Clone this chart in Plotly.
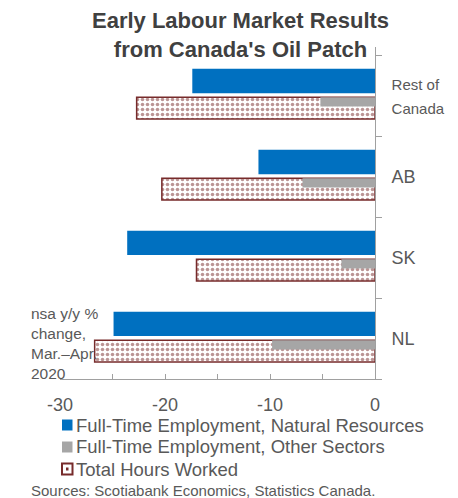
import plotly.graph_objects as go

# Regions, bottom to top on the category axis
regions = ["NL", "SK", "AB", "Rest of Canada"]
region_labels = ["NL", "SK", "AB", '<span style="font-size:15px">Rest of<br>Canada</span>']

# y/y % change, March to April 2020 (not seasonally adjusted)
ft_natural_resources = [-24.9, -23.6, -11.1, -17.4]
ft_other_sectors = [-9.8, -3.2, -6.9, -5.2]
total_hours_worked = [-26.7, -17.0, -20.3, -22.7]

x_ticks = [-30, -20, -10, 0]

BLUE = "#0070C0"
GREY = "#A6A6A6"
MAROON = "#772B2B"
TEXT = "#595959"
AXIS = "#A0A0A0"
FONT = "Liberation Sans, Arial, sans-serif"

# Plot-area geometry in pixels, used to place the legend and notes
L, R, T, B = 60, 375, 47, 379


def px_x(px):
    return (px - L) / (R - L)


def px_y(py):
    return (B - py) / (B - T)


series = [
    dict(name="Full-Time Employment, Natural Resources", values=ft_natural_resources,
         offset=0.03, width=0.30,
         marker=dict(color=BLUE, line=dict(width=0))),
    dict(name="Total Hours Worked", values=total_hours_worked,
         offset=-0.29, width=0.27,
         marker=dict(color="white", line=dict(color=MAROON, width=1.5),
                     pattern=dict(shape=".", fgcolor=MAROON, bgcolor="white",
                                  size=5, solidity=0.4, fillmode="overlay"))),
    dict(name="Full-Time Employment, Other Sectors", values=ft_other_sectors,
         offset=-0.135, width=0.115,
         marker=dict(color=GREY, line=dict(width=0))),
]

fig = go.Figure()
for s in series:
    fig.add_trace(go.Bar(
        name=s["name"], y=regions, x=s["values"], orientation="h",
        offset=s["offset"], width=s["width"], marker=s["marker"],
        showlegend=False,
    ))

fig.update_layout(
    width=458, height=498,
    margin=dict(l=L, r=458 - R, t=T, b=498 - B),
    barmode="overlay",
    paper_bgcolor="white", plot_bgcolor="white",
    font=dict(family=FONT, color=TEXT, size=18),
    xaxis=dict(
        range=[-30, 0], tickvals=x_ticks, ticktext=[str(v) for v in x_ticks],
        showgrid=False, zeroline=False,
        showline=True, linecolor=AXIS, linewidth=1,
        ticks="inside", ticklen=5, tickcolor=AXIS,
        minor=dict(dtick=5, ticks="inside", ticklen=5, tickcolor=AXIS),
        ticklabelstandoff=9,
        tickfont=dict(size=18, color=TEXT),
    ),
    yaxis=dict(
        type="category", categoryorder="array", categoryarray=regions,
        tickmode="array", tickvals=regions, ticktext=region_labels,
        range=[-0.5, 3.6], side="right",
        showgrid=False, zeroline=False,
        showline=True, linecolor=AXIS, linewidth=1,
        ticks="outside", tickson="boundaries", ticklen=6, tickcolor=AXIS,
        ticklabelstandoff=12,
        tickfont=dict(size=18, color=TEXT),
    ),
    showlegend=False,
)

# Title
fig.add_annotation(
    text="<b>Early Labour Market Results<br>from Canada's Oil Patch</b>",
    xref="paper", yref="paper", x=px_x(240), y=px_y(6),
    xanchor="center", yanchor="top", align="center", showarrow=False,
    font=dict(size=22, color="#404040"),
)

# Legend: swatch + label per series, in legend order
legend_order = [
    ("Full-Time Employment, Natural Resources", BLUE, BLUE, 425),
    ("Full-Time Employment, Other Sectors", GREY, GREY, 447),
    ("Total Hours Worked", "white", MAROON, 469),
]
for name, fill, edge, cy in legend_order:
    fig.add_shape(
        type="rect", xref="paper", yref="paper",
        x0=px_x(62), x1=px_x(72.5), y0=px_y(cy + 5.5), y1=px_y(cy - 5.5),
        fillcolor=fill, line=dict(color=edge, width=2 if fill == "white" else 0),
    )
    if fill == "white":
        fig.add_shape(
            type="rect", xref="paper", yref="paper",
            x0=px_x(66), x1=px_x(68.5), y0=px_y(cy + 1.5), y1=px_y(cy - 1.5),
            fillcolor=MAROON, line=dict(width=0),
        )
    fig.add_annotation(
        text=name, xref="paper", yref="paper", x=px_x(74), y=px_y(cy),
        xanchor="left", yanchor="middle", showarrow=False,
        font=dict(size=18.5, color=TEXT),
    )

# Unit note
fig.add_annotation(
    text="nsa y/y %<br>change,<br>Mar.–Apr.<br>2020",
    xref="paper", yref="paper", x=px_x(29), y=px_y(303),
    xanchor="left", yanchor="top", align="left", showarrow=False,
    font=dict(size=15.5, color=TEXT),
)

# Source line
fig.add_annotation(
    text="Sources: Scotiabank Economics, Statistics Canada.",
    xref="paper", yref="paper", x=px_x(29), y=px_y(490),
    xanchor="left", yanchor="middle", align="left", showarrow=False,
    font=dict(size=15, color=TEXT),
)

fig.write_html("out.html")
